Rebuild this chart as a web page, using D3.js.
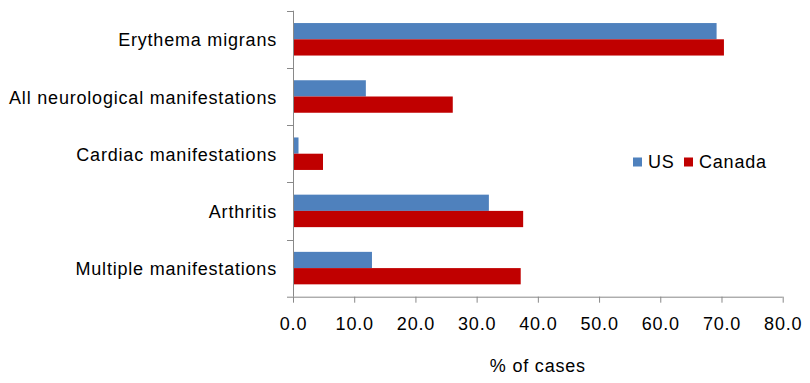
<!DOCTYPE html>
<html>
<head>
<meta charset="utf-8">
<script src="https://cdn.jsdelivr.net/npm/d3@7"></script>
<style>
  html, body { margin: 0; padding: 0; background: #fff; }
  svg { display: block; }
  text { font-family: Arial, "Liberation Sans", sans-serif; fill: #000; }
</style>
</head>
<body>
<svg id="chart" width="810" height="383"></svg>
<script>
const categories = ["Erythema migrans", "All neurological manifestations", "Cardiac manifestations", "Arthritis", "Multiple manifestations"];
const seriesNames = ["US", "Canada"];
const usValues = [69.2, 11.9, 0.9, 32.0, 12.9];
const canadaValues = [70.4, 26.1, 4.9, 37.6, 37.2];
const xTicks = [0, 10, 20, 30, 40, 50, 60, 70, 80];
const colors = ["#4F81BD", "#C00000"];
const xTitle = "% of cases";

(function () {
const svg = d3.select("#chart");
const pLeft = 293, pRight = 782.7, pTop = 10.7, pBottom = 296.7;
const axisColor = "#898989";
const fontSize = "18px", letterSpacing = "0.8px";

const x = d3.scaleLinear().domain([0, 80]).range([pLeft, pRight]);
const p = 0.432;
const y = d3.scaleBand().domain(categories).range([pTop, pBottom]).paddingInner(p).paddingOuter(p / 2);
const ys = d3.scaleBand().domain(seriesNames).range([0, y.bandwidth()]);

const data = categories.map((c, i) => ({ cat: c, vals: [usValues[i], canadaValues[i]] }));

// bars
const g = svg.append("g");
data.forEach(d => {
  d.vals.forEach((v, si) => {
    g.append("rect")
      .attr("x", x(0))
      .attr("y", y(d.cat) + ys(seriesNames[si]))
      .attr("width", x(v) - x(0))
      .attr("height", ys.bandwidth())
      .attr("fill", colors[si]);
  });
});

// x axis
const xAxis = d3.axisBottom(x).tickValues(xTicks).tickSize(6).tickPadding(10).tickFormat(d3.format(".1f"));
const xg = svg.append("g").attr("transform", `translate(0,${pBottom})`).call(xAxis);
xg.attr("font-family", null).attr("font-size", null);
xg.select(".domain").attr("stroke", axisColor).attr("d", `M${pLeft - 6},0.5H${pRight}`);
xg.selectAll(".tick line").attr("stroke", axisColor);
xg.selectAll(".tick text").style("font-size", fontSize).style("letter-spacing", letterSpacing)
  .attr("fill", "#000").attr("dy", "0.95em");

// y axis
const step = y.step();
svg.append("line").attr("x1", pLeft + 0.5).attr("x2", pLeft + 0.5).attr("y1", pTop).attr("y2", pBottom)
  .attr("stroke", axisColor);
categories.forEach((c, i) => {
  const yy = Math.round(pTop + i * step) + 0.5;
  svg.append("line").attr("x1", pLeft - 6).attr("x2", pLeft).attr("y1", yy).attr("y2", yy).attr("stroke", axisColor);
});
// category labels
categories.forEach(c => {
  svg.append("text")
    .attr("x", 277)
    .attr("y", y(c) + y.bandwidth() / 2 + 7)
    .attr("text-anchor", "end")
    .style("font-size", fontSize)
    .style("letter-spacing", letterSpacing)
    .text(c);
});

// x title
svg.append("text")
  .attr("x", (pLeft + pRight) / 2)
  .attr("y", 372)
  .attr("text-anchor", "middle")
  .style("font-size", fontSize)
  .style("letter-spacing", letterSpacing)
  .text(xTitle);

// legend
const legendItems = [{ name: "US", x: 633 }, { name: "Canada", x: 684 }];
legendItems.forEach((it, i) => {
  svg.append("rect").attr("x", it.x).attr("y", 157.5).attr("width", 9).attr("height", 9).attr("fill", colors[i]);
  svg.append("text").attr("x", it.x + 15).attr("y", 168.3)
    .style("font-size", fontSize).style("letter-spacing", letterSpacing).text(it.name);
});
})();
</script>
</body>
</html>
